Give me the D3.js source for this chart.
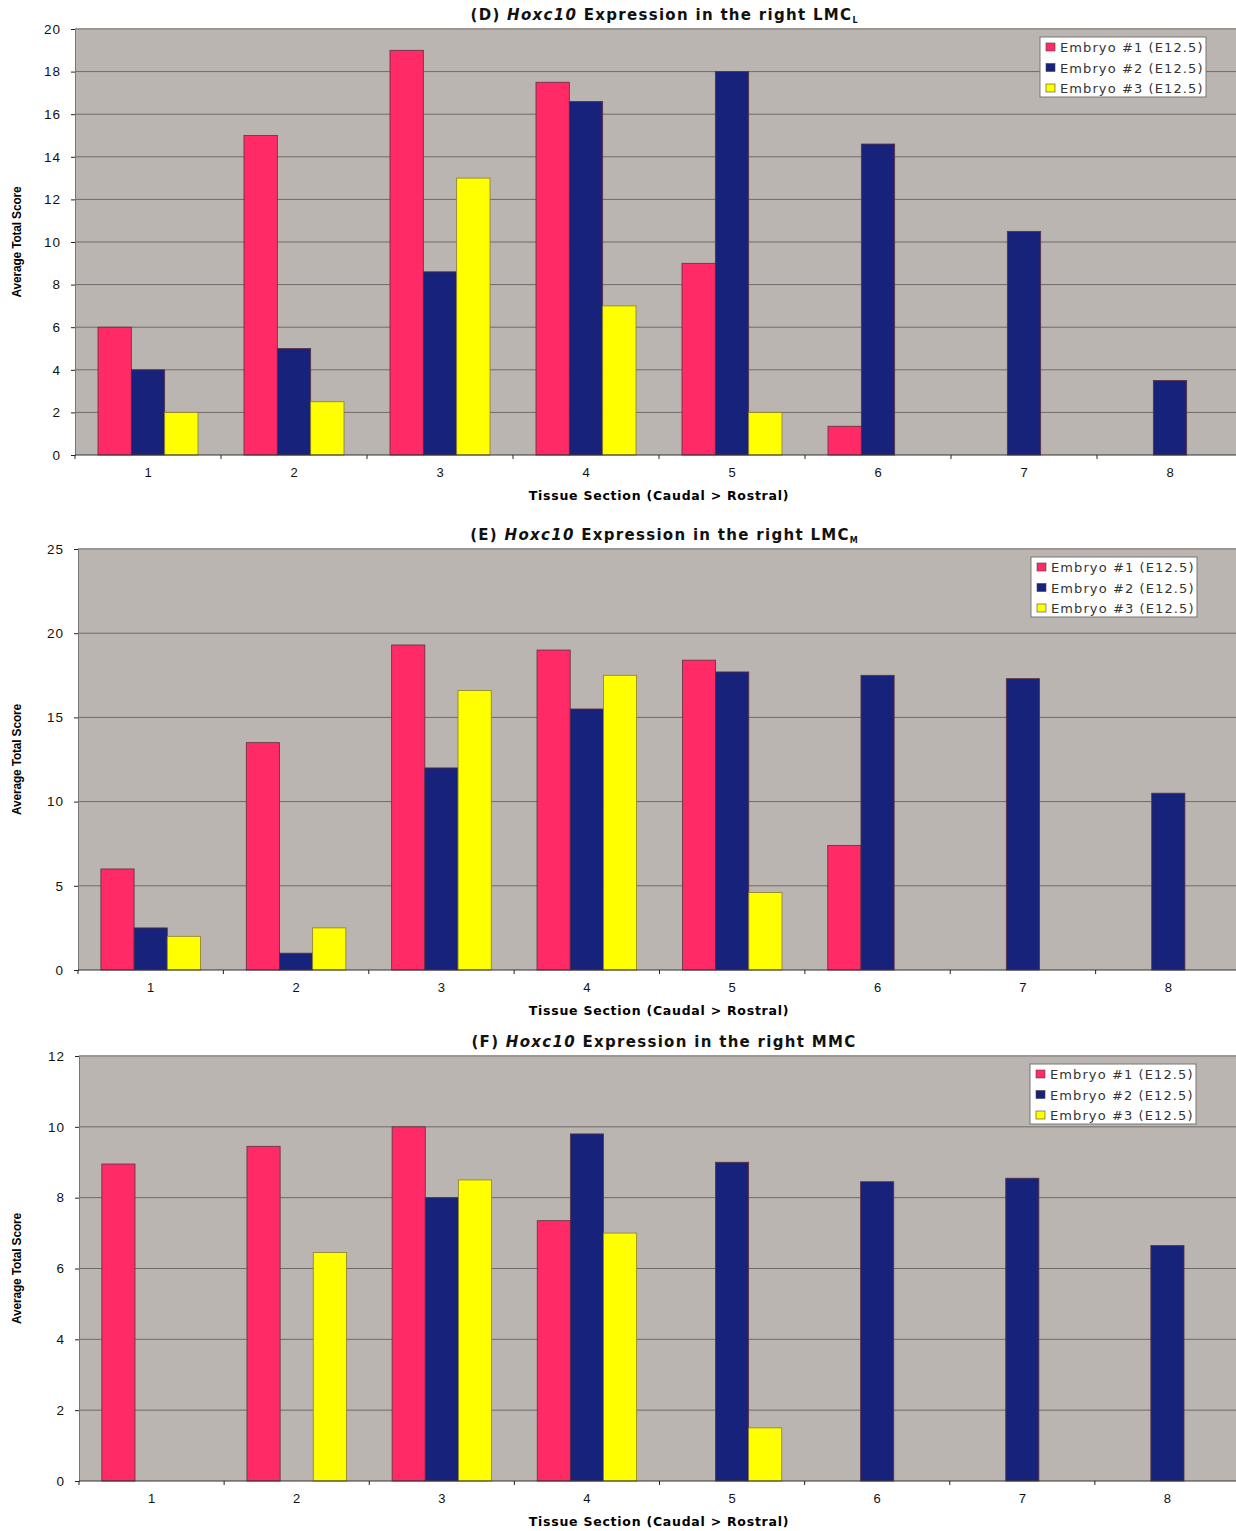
<!DOCTYPE html>
<html>
<head>
<meta charset="utf-8">
<script src="https://cdn.jsdelivr.net/npm/d3@7"></script>
<style>
  body { margin: 0; background: #fff; }
  svg { display: block; font-family: "Liberation Sans", Arial, sans-serif; }
  .wide { font-family: "DejaVu Sans", Verdana, sans-serif; }
</style>
</head>
<body>
<svg id="chart" width="1236" height="1531"></svg>
<script>
// tissue sections (caudal > rostral)
const sections = ['1', '2', '3', '4', '5', '6', '7', '8'];
const seriesNames = ['Embryo #1 (E12.5)', 'Embryo #2 (E12.5)', 'Embryo #3 (E12.5)'];
const seriesColors = ['#ff2a66', '#17237a', '#ffff00'];

// (D) right LMC-L
const lmcLEmbryo1 = [6, 15, 19, 17.5, 9, 1.35, 0, 0];
const lmcLEmbryo2 = [4, 5, 8.6, 16.6, 18, 14.6, 10.5, 3.5];
const lmcLEmbryo3 = [2, 2.5, 13, 7, 2, 0, 0, 0];
const lmcLTicks = [0, 2, 4, 6, 8, 10, 12, 14, 16, 18, 20];

// (E) right LMC-M
const lmcMEmbryo1 = [6, 13.5, 19.3, 19, 18.4, 7.4, 0, 0];
const lmcMEmbryo2 = [2.5, 1, 12, 15.5, 17.7, 17.5, 17.3, 10.5];
const lmcMEmbryo3 = [2, 2.5, 16.6, 17.5, 4.6, 0, 0, 0];
const lmcMTicks = [0, 5, 10, 15, 20, 25];

// (F) right MMC
const mmcEmbryo1 = [8.95, 9.45, 10, 7.35, 0, 0, 0, 0];
const mmcEmbryo2 = [0, 0, 8, 9.8, 9, 8.45, 8.55, 6.65];
const mmcEmbryo3 = [0, 6.45, 8.5, 7, 1.5, 0, 0, 0];
const mmcTicks = [0, 2, 4, 6, 8, 10, 12];

const svg = d3.select('#chart');

function drawChart(opt) {
  const g = svg.append('g');
  const x0 = d3.scaleBand().domain(sections)
    .range([opt.left, opt.right]).paddingInner(0.315).paddingOuter(0.1575);
  const x1 = d3.scaleBand().domain(d3.range(3)).range([0, x0.bandwidth()]);
  const y = d3.scaleLinear().domain([0, opt.max]).range([opt.bottom, opt.top]);

  // plot background
  g.append('rect')
    .attr('x', opt.left).attr('y', opt.top)
    .attr('width', opt.right - opt.left).attr('height', opt.bottom - opt.top)
    .attr('fill', '#bbb5b1');
  g.append('line')
    .attr('x1', opt.left).attr('x2', opt.right)
    .attr('y1', opt.top).attr('y2', opt.top)
    .attr('stroke', '#9c9794').attr('stroke-width', 2);

  // gridlines
  g.append('g').selectAll('line')
    .data(opt.ticks.filter(d => d > 0 && d < opt.max))
    .join('line')
    .attr('x1', opt.left).attr('x2', opt.right)
    .attr('y1', d => y(d)).attr('y2', d => y(d))
    .attr('stroke', '#6f6b69').attr('stroke-width', 1);

  // bars
  const series = opt.data;
  g.append('g').selectAll('g')
    .data(sections)
    .join('g')
    .attr('transform', d => `translate(${x0(d)},0)`)
    .selectAll('rect')
    .data((d, i) => series.map((s, k) => ({ k: k, v: s[i] })).filter(e => e.v > 0))
    .join('rect')
    .attr('x', d => x1(d.k))
    .attr('width', x1.bandwidth())
    .attr('y', d => y(d.v))
    .attr('height', d => y(0) - y(d.v))
    .attr('fill', d => seriesColors[d.k])
    .attr('stroke', d => d.k === 2 ? '#8a7f2a' : '#5a3040')
    .attr('stroke-width', 0.8);

  // y axis
  const yAxis = g.append('g')
    .attr('transform', `translate(${opt.left},0)`)
    .call(d3.axisLeft(y).tickValues(opt.ticks).tickSize(4).tickPadding(10));
  yAxis.select('.domain').attr('stroke', '#777');
  yAxis.selectAll('.tick line').attr('stroke', '#222');
  yAxis.selectAll('text').attr('font-size', 13.5).attr('letter-spacing', 1).attr('fill', '#111');

  // x axis, ticks between sections
  const xAxis = g.append('g')
    .attr('transform', `translate(0,${opt.bottom})`);
  xAxis.append('line')
    .attr('x1', opt.left).attr('x2', opt.right)
    .attr('stroke', '#333');
  xAxis.selectAll('line.tk')
    .data(sections)
    .join('line').attr('class', 'tk')
    .attr('x1', d => x0(d) - x0.step() * 0.1575)
    .attr('x2', d => x0(d) - x0.step() * 0.1575)
    .attr('y1', 0).attr('y2', 4)
    .attr('stroke', '#222');
  xAxis.selectAll('text')
    .data(sections)
    .join('text')
    .attr('x', d => x0(d) + x0.bandwidth() / 2)
    .attr('y', 22)
    .attr('text-anchor', 'middle')
    .attr('font-size', 13)
    .attr('fill', '#111')
    .text(d => d);

  // axis titles
  g.append('text')
    .attr('class', 'wide')
    .attr('x', 659).attr('y', opt.bottom + 45)
    .attr('text-anchor', 'middle')
    .attr('font-size', 12.5).attr('font-weight', 'bold')
    .attr('letter-spacing', 0.75)
    .text('Tissue Section (Caudal > Rostral)');
  g.append('text')
    .attr('transform', `translate(21,${(opt.top + opt.bottom) / 2}) rotate(-90)`)
    .attr('text-anchor', 'middle')
    .attr('font-size', 12).attr('font-weight', 'bold')
    .attr('letter-spacing', -0.2)
    .text('Average Total Score');

  // chart title
  const t = g.append('text')
    .attr('class', 'wide')
    .attr('x', 664).attr('y', opt.top - 9)
    .attr('text-anchor', 'middle')
    .attr('font-size', 15).attr('font-weight', 'bold')
    .attr('letter-spacing', 1.3)
    .attr('fill', '#111');
  t.append('tspan').text(opt.label + ' ');
  t.append('tspan').attr('font-style', 'italic').text('Hoxc10');
  t.append('tspan').text(' Expression in the right ' + opt.region);
  if (opt.sub) {
    t.append('tspan').attr('font-size', 8).attr('letter-spacing', 0).attr('dy', 3).text(opt.sub);
  }

  // legend
  const lg = g.append('g')
    .attr('transform', `translate(${opt.legendX},${opt.top + 8})`);
  lg.append('rect')
    .attr('width', 166).attr('height', 60)
    .attr('fill', '#fff').attr('stroke', '#777');
  const items = lg.selectAll('g')
    .data(seriesNames)
    .join('g')
    .attr('transform', (d, i) => `translate(6,${10 + i * 20.5})`);
  items.append('rect')
    .attr('x', 0).attr('y', -4).attr('width', 9).attr('height', 8)
    .attr('fill', (d, i) => seriesColors[i])
    .attr('stroke', '#444').attr('stroke-width', 0.6);
  items.append('text')
    .attr('class', 'wide')
    .attr('x', 14).attr('y', 5)
    .attr('font-size', 13).attr('letter-spacing', 1.1).attr('fill', '#333')
    .text(d => d);
}

drawChart({
  label: '(D)', region: 'LMC', sub: 'L',
  data: [lmcLEmbryo1, lmcLEmbryo2, lmcLEmbryo3],
  ticks: lmcLTicks, max: 20,
  left: 75, right: 1243, top: 29, bottom: 455, legendX: 1040
});
drawChart({
  label: '(E)', region: 'LMC', sub: 'M',
  data: [lmcMEmbryo1, lmcMEmbryo2, lmcMEmbryo3],
  ticks: lmcMTicks, max: 25,
  left: 78, right: 1241, top: 549, bottom: 970, legendX: 1031
});
drawChart({
  label: '(F)', region: 'MMC', sub: null,
  data: [mmcEmbryo1, mmcEmbryo2, mmcEmbryo3],
  ticks: mmcTicks, max: 12,
  left: 79, right: 1240, top: 1056, bottom: 1481, legendX: 1030
});
</script>
</body>
</html>
